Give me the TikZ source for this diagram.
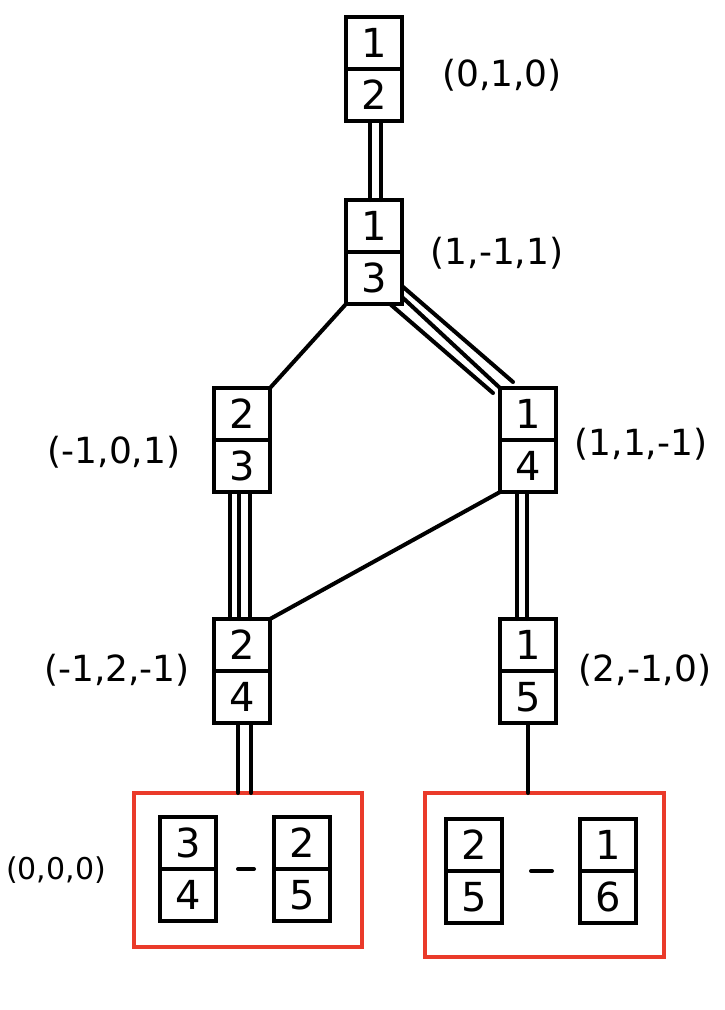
\documentclass[tikz,border=0pt]{standalone}
\usepackage{fontspec}
\setmainfont{DejaVu Sans}
\usetikzlibrary{positioning}
\definecolor{boxred}{RGB}{234,58,42}
\tikzset{
  half/.style={draw, line width=4.5pt, minimum width=56pt, minimum height=52pt,
    inner sep=0pt, outer sep=0pt, font=\fontsize{40}{44}\selectfont},
  coord/.style={inner sep=0pt, font=\fontsize{36}{42}\selectfont},
  link/.style={line width=4pt, line cap=round},
  pairbox/.style={draw=boxred, line width=4pt, inner sep=0pt, outer sep=0pt},
}

\begin{document}
\begin{tikzpicture}[x=1pt,y=-1pt]
		\useasboundingbox (0,0) rectangle (724,1010);
		% red frames round the last pairs
		\node[pairbox, minimum width=228pt, minimum height=154pt] (redL) at (248,870) {};
		\node[pairbox, minimum width=239pt, minimum height=164pt] (redR) at (544.5,875) {};
		
		% dominoes: top half t, bottom half b
		\foreach \n/\x/\y/\up/\dn in {1/374/43/1/2, 2/374/226/1/3, 3/242/414/2/3, 4/528/414/1/4,
			5/242/645/2/4, 6/528/645/1/5, 7/188/843/3/4, 8/302/843/2/5, 9/474/845/2/5, 10/608/845/1/6}{
			\node[half] (t\n) at (\x,\y) {\up};
			\node[half, below=0pt of t\n] (b\n) {\dn};
		}
		
		% labels
		\node[coord] (c1) at (502,75) {(0,1,0)};
		\node[coord] (c2) at (497,253) {(1,-1,1)};
		\node[coord] (c3) at (114,452) {(-1,0,1)};
		\node[coord] (c4) at (641,444) {(1,1,-1)};
		\node[coord] (c5) at (117,670) {(-1,2,-1)};
		\node[coord] (c6) at (645,670) {(2,-1,0)};
		\node[coord, font=\fontsize{30}{36}\selectfont] (c7) at (56,870) {(0,0,0)};
		
		% connectors
		\foreach \dx in {-4,7}
			\draw[link] ([xshift=\dx pt]b1.south) -- ([xshift=\dx pt]t2.north);
		\draw[link] (b2.south west) -- (t3.north east);
		\draw[link] ([xshift=-12pt]b2.south east) -- ([xshift=-7pt,yshift=-5pt]t4.north west);
		\draw[link] ([yshift=7pt]b2.south east) -- (t4.north west);
		\draw[link] ([yshift=18pt]b2.south east) -- ([xshift=13pt,yshift=6pt]t4.north west);
		\foreach \dx in {-12,-3,8}
			\draw[link] ([xshift=\dx pt]b3.south) -- ([xshift=\dx pt]t5.north);
		\draw[link] (b4.south west) -- (t5.north east);
		\foreach \dx in {-11,-1}
			\draw[link] ([xshift=\dx pt]b4.south) -- ([xshift=\dx pt]t6.north);
		\foreach \dx in {-4,9}
			\draw[link] ([xshift=\dx pt]b5.south) -- ([xshift=\dx pt]b5.south |- redL.north);
		\draw[link] (b6.south) -- (b6.south |- redR.north);
		
		% minus signs inside the frames
		\draw[link] ([xshift=22pt]t7.south east) -- ([xshift=-20pt]t8.south west);
		\draw[link] ([xshift=29pt]t9.south east) -- ([xshift=-28pt]t10.south west);
	\end{tikzpicture}
\end{document}
